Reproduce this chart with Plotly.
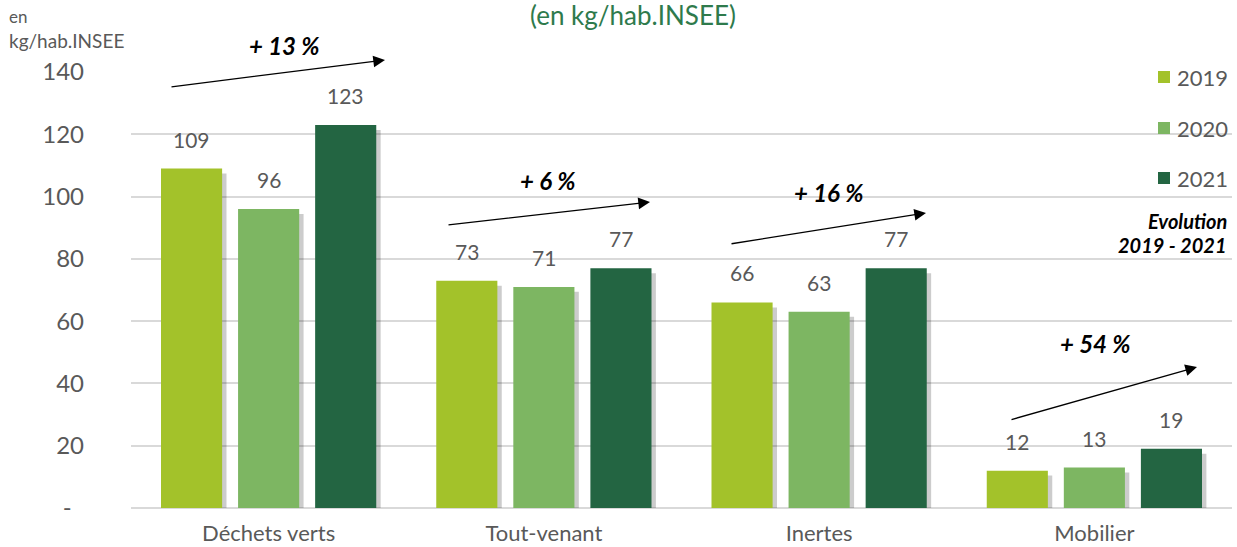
import plotly.graph_objects as go

categories = ["Déchets verts", "Tout-venant", "Inertes", "Mobilier"]
years = ["2019", "2020", "2021"]
values_2019 = [109, 73, 66, 12]
values_2020 = [96, 71, 63, 13]
values_2021 = [123, 77, 77, 19]
evolution_labels = ["+ 13 %", "+ 6 %", "+ 16 %", "+ 54 %"]
y_tickvals = [0, 20, 40, 60, 80, 100, 120, 140]
y_ticktext = ["-\u00a0\u00a0", "20", "40", "60", "80", "100", "120", "140"]

series = [values_2019, values_2020, values_2021]
colors = ["#A3C22A", "#7DB662", "#236542"]

W, H = 1237, 547
ML, MR, MT, MB = 131, 5, 72, 39
PW = W - ML - MR
PH = H - MT - MB
FONT = "Lato"
GRAY = "#595959"

def px(x):
    return (x - ML) / PW

def py(y):
    return (H - MB - y) / PH

bar_w = 0.222
offsets = [-0.391, -0.111, 0.169]
xs = list(range(len(categories)))

fig = go.Figure()
# shadows
for k, vals in enumerate(series):
    fig.add_trace(go.Bar(
        x=xs, y=[v - 1.6 for v in vals], width=bar_w, offset=offsets[k] + 0.016,
        marker=dict(color="rgba(0,0,0,0.2)", line=dict(width=0)),
        hoverinfo="skip", showlegend=False))
for k, vals in enumerate(series):
    fig.add_trace(go.Bar(
        x=xs, y=vals, width=bar_w, offset=offsets[k], name=years[k],
        marker=dict(color=colors[k], line=dict(width=0)), showlegend=False))

ann = []
# value labels
for k, vals in enumerate(series):
    for i, v in enumerate(vals):
        ann.append(dict(x=i + offsets[k] + bar_w / 2, y=v, xref="x", yref="y",
                        text=str(v), showarrow=False, xanchor="center", yanchor="bottom",
                        yshift=15, font=dict(size=21, color=GRAY, family=FONT)))

# evolution arrows + labels (pixel positions)
arrows = [((385, 60), (170, 87), (284, 45)),
          ((650, 202), (447, 225), (548, 180)),
          ((926, 213), (730, 244), (828, 192)),
          ((1197, 367), (1010, 420), (1095, 343))]
for (head, tail, lab), txt in zip(arrows, evolution_labels):
    ann.append(dict(x=px(head[0]), y=py(head[1]), xref="paper", yref="paper",
                    ax=tail[0] - head[0], ay=tail[1] - head[1], axref="pixel", ayref="pixel",
                    text="", showarrow=True, arrowhead=2, arrowsize=1.8, arrowwidth=1.3,
                    arrowcolor="black"))
    ann.append(dict(x=px(lab[0]), y=py(lab[1]), xref="paper", yref="paper",
                    xanchor="center", yanchor="middle",
                    text="<b><i>" + txt + "</i></b>", showarrow=False,
                    font=dict(size=24, color="black", family=FONT)))

# title
ann.append(dict(x=px(633), y=py(15), xref="paper", yref="paper", text="(en kg/hab.INSEE)",
                xanchor="center", yanchor="middle",
                showarrow=False, font=dict(size=26, color="#2E7A4C", family=FONT)))
# y axis title
ann.append(dict(x=px(7), y=py(16), xref="paper", yref="paper", text="en",
                xanchor="left", yanchor="middle",
                showarrow=False, font=dict(size=17, color=GRAY, family=FONT)))
ann.append(dict(x=px(7), y=py(41), xref="paper", yref="paper", text="kg/hab.INSEE",
                xanchor="left", yanchor="middle",
                showarrow=False, font=dict(size=19, color=GRAY, family=FONT)))

# legend (manual)
shapes = []
leg_y = [77, 128, 178]
for k, yr in enumerate(years):
    shapes.append(dict(type="rect", xref="paper", yref="paper",
                       x0=px(1158), x1=px(1170), y0=py(leg_y[k] + 6), y1=py(leg_y[k] - 6),
                       fillcolor=colors[k], line=dict(width=0)))
    ann.append(dict(x=px(1175), y=py(leg_y[k]), xref="paper", yref="paper", text=yr,
                    xanchor="left", yanchor="middle", showarrow=False,
                    font=dict(size=22, color=GRAY, family=FONT)))
ann.append(dict(x=px(1229), y=py(221), xref="paper", yref="paper", text="<b><i>Evolution</i></b>",
                xanchor="right", yanchor="middle", showarrow=False,
                font=dict(size=20, color="black", family=FONT)))
ann.append(dict(x=px(1229), y=py(245), xref="paper", yref="paper", text="<b><i>2019 - 2021</i></b>",
                xanchor="right", yanchor="middle", showarrow=False,
                font=dict(size=20, color="black", family=FONT)))

fig.update_layout(
    width=W, height=H, barmode="overlay",
    margin=dict(l=ML, r=MR, t=MT, b=MB, pad=0, autoexpand=False),
    plot_bgcolor="white", paper_bgcolor="white",
    font=dict(family=FONT, color=GRAY),
    annotations=ann, shapes=shapes, showlegend=False,
    xaxis=dict(tickvals=xs, ticktext=categories, range=[-0.5, 3.5], showgrid=False,
               zeroline=False, showline=False, ticks="", tickfont=dict(size=22, color=GRAY),
               ticklabelstandoff=10, automargin=False),
    yaxis=dict(range=[0, 140], tickvals=y_tickvals, ticktext=y_ticktext, showgrid=True,
               gridcolor="#D9D9D9", gridwidth=2, zeroline=True, zerolinecolor="#D9D9D9",
               zerolinewidth=2, showline=False, ticks="", automargin=False,
               tickfont=dict(size=24, color=GRAY), ticklabelstandoff=46),
)
fig.write_html("out.html")
